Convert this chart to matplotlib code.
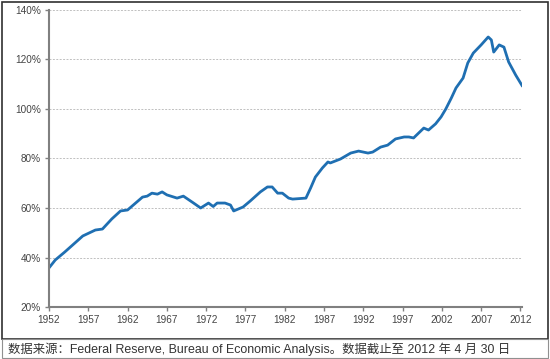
import matplotlib
matplotlib.use("Agg")
import matplotlib.pyplot as plt
from matplotlib.patches import Rectangle

# household debt / disposable income (year, %)
years = [1952.0, 1952.8, 1954.0, 1955.7, 1956.3, 1957.9, 1958.8, 1960.0, 1961.1,
         1962.0, 1963.9, 1964.5, 1965.1, 1965.8, 1966.4, 1967.0, 1968.3, 1969.1,
         1970.4, 1971.3, 1972.3, 1972.9, 1973.4, 1974.4, 1975.1, 1975.5, 1976.7,
         1977.6, 1978.9, 1979.8, 1980.4, 1981.1, 1981.7, 1982.5, 1983.0, 1984.7,
         1985.3, 1985.9, 1986.8, 1987.5, 1987.8, 1989.1, 1990.4, 1991.4, 1992.6,
         1993.2, 1994.2, 1995.1, 1996.1, 1997.2, 1997.8, 1998.4, 1999.7, 2000.3,
         2001.2, 2001.9, 2002.5, 2003.2, 2003.8, 2004.7, 2005.3, 2006.0, 2007.0,
         2007.9, 2008.3, 2008.6, 2009.3, 2009.9, 2010.5, 2011.4, 2012.2]
ratio = [35.8, 39.0, 42.2, 47.0, 48.7, 51.1, 51.5, 55.6, 58.8,
         59.2, 64.4, 64.8, 66.0, 65.6, 66.5, 65.3, 64.0, 64.8,
         62.0, 60.0, 62.0, 60.6, 62.0, 62.0, 61.2, 58.8, 60.4,
         62.8, 66.5, 68.5, 68.5, 66.0, 66.0, 64.0, 63.6, 64.0,
         68.1, 72.5, 76.2, 78.6, 78.2, 79.8, 82.2, 83.0, 82.2,
         82.6, 84.6, 85.4, 87.9, 88.7, 88.7, 88.3, 92.3, 91.5,
         94.0, 96.8, 100.0, 104.4, 108.5, 112.5, 118.6, 122.6, 125.9,
         129.1, 127.9, 123.0, 125.9, 125.0, 119.0, 113.7, 109.5]

x_ticks = list(range(1952, 2013, 5))
y_ticks = [20, 40, 60, 80, 100, 120, 140]
source = "数据来源：Federal Reserve, Bureau of Economic Analysis。数据截止至 2012 年 4 月 30 日"

W, H = 550, 359
fig = plt.figure(figsize=(W / 100, H / 100), dpi=100)
ax = fig.add_axes([49 / W, 1 - 307 / H, (522 - 49) / W, (307 - 10) / H])

ax.plot(years, ratio, color="#1f6fb2", lw=2.0, solid_joinstyle="round")

ax.set_xlim(1952, 2012.2)
ax.set_ylim(20, 140)
ax.set_xticks(x_ticks)
ax.set_yticks(y_ticks)
ax.set_yticklabels([f"{v}%" for v in y_ticks])
ax.grid(axis="y", color="#c0c0c0", lw=0.7, ls=(0, (2, 1.5)))
ax.set_axisbelow(True)

for s in ["top", "right"]:
    ax.spines[s].set_visible(False)
for s in ["left", "bottom"]:
    ax.spines[s].set_color("#808080")
    ax.spines[s].set_linewidth(1.5)
ax.tick_params(length=3, width=1, color="#808080", labelsize=7.2, labelcolor="#444444", pad=3)
for lab in ax.get_xticklabels() + ax.get_yticklabels():
    lab.set_family("Liberation Sans")

# outer frame and source strip
fig.add_artist(Rectangle((1.5 / W, 1 - 339 / H), 546 / W, 337.5 / H,
                         transform=fig.transFigure, fill=False, ec="#303030", lw=1.2))
fig.add_artist(Rectangle((1.5 / W, 1 - 358 / H), 546 / W, 19 / H,
                         transform=fig.transFigure, fill=False, ec="#909090", lw=0.8))
fig.text(8 / W, 1 - 349 / H, source, fontsize=8.9, color="#333333", va="center",
         family=["Liberation Sans", "Noto Sans CJK SC"])

fig.savefig("out.png", dpi=100)
